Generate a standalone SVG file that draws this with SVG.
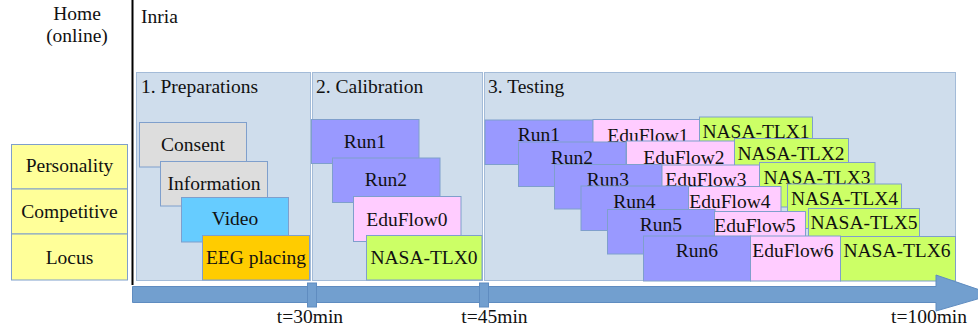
<svg xmlns="http://www.w3.org/2000/svg" width="978" height="329" viewBox="0 0 978 329">
<style>
text{font-family:"Liberation Serif","Times New Roman",serif;font-size:19.5px;fill:#111}
.c{text-anchor:middle}
.panel{fill:#cfddec;stroke:#a3bbd8;stroke-width:1}
.box{stroke:#7f9fcc;stroke-width:1}
.yel{fill:#ffff99}
.gry{fill:#dddddd}
.vid{fill:#66ccff}
.eeg{fill:#ffcc00}
.run{fill:#9999ff}
.edu{fill:#ffccff}
.nasa{fill:#ccff66}
.axis{fill:#729fcf;stroke:#5f8cc0;stroke-width:1}
</style>
<rect width="978" height="329" fill="#ffffff"/>
<g id="header">
<text class="c" x="77" y="20">Home</text>
<text class="c" x="77" y="42">(online)</text>
<text x="141" y="23">Inria</text>
<line x1="132.5" y1="0" x2="132.5" y2="285" stroke="#000" stroke-width="2"/>
</g>
<g id="questionnaires">
<g id="personality"><rect class="box yel" x="11.5" y="144.5" width="116" height="44.5"/><text class="c" x="69.5" y="171.5">Personality</text></g>
<g id="competitive"><rect class="box yel" x="11.5" y="189" width="116" height="45"/><text class="c" x="69.5" y="217.5">Competitive</text></g>
<g id="locus"><rect class="box yel" x="11.5" y="234" width="116" height="46"/><text class="c" x="69.5" y="263.5">Locus</text></g>
</g>
<g id="panel-preparations"><rect class="panel" x="136.5" y="72.5" width="174" height="208"/><text x="141" y="93">1. Preparations</text></g>
<g id="panel-calibration"><rect class="panel" x="312.5" y="72.5" width="170" height="208"/><text x="316" y="93">2. Calibration</text></g>
<g id="panel-testing"><rect class="panel" x="484.5" y="72.5" width="471" height="208"/><text x="488" y="93">3. Testing</text></g>
<g id="consent"><rect class="box gry" x="139.5" y="122.5" width="107" height="44.5"/><text class="c" x="193" y="151">Consent</text></g>
<g id="information"><rect class="box gry" x="160.5" y="161.5" width="107" height="44.5"/><text class="c" x="214" y="190">Information</text></g>
<g id="video"><rect class="box vid" x="181.5" y="197.5" width="107" height="44.5"/><text class="c" x="235" y="225">Video</text></g>
<g id="eeg"><rect class="box eeg" x="202.5" y="235.5" width="107" height="44.5"/><text class="c" x="256" y="263.5">EEG placing</text></g>
<g id="cal-run1"><rect class="box run" x="311.5" y="119.5" width="107.5" height="44"/><text class="c" x="365" y="147.5">Run1</text></g>
<g id="cal-run2"><rect class="box run" x="332.5" y="158" width="107.5" height="44.5"/><text class="c" x="386" y="186">Run2</text></g>
<g id="cal-eduflow0"><rect class="box edu" x="353.5" y="196.5" width="107.5" height="45"/><text class="c" x="407" y="225.5">EduFlow0</text></g>
<g id="cal-nasa0"><rect class="box nasa" x="366.5" y="235.5" width="115.5" height="44.5"/><text class="c" x="424" y="263.5">NASA-TLX0</text></g>
<g id="row1">
<rect class="box run" x="485" y="120" width="108" height="44.5"/><text class="c" x="539" y="141">Run1</text>
<rect class="box edu" x="593" y="119.5" width="106.5" height="44.5"/><text class="c" x="648" y="141.5">EduFlow1</text>
<rect class="box nasa" x="699.5" y="117" width="113" height="44.5"/><text class="c" x="756" y="138">NASA-TLX1</text>
</g>
<g id="row2">
<rect class="box run" x="518.5" y="142" width="107.5" height="44.5"/><text class="c" x="572" y="163.5">Run2</text>
<rect class="box edu" x="626.5" y="141" width="108" height="44.5"/><text class="c" x="684" y="163.5">EduFlow2</text>
<rect class="box nasa" x="734.5" y="138.5" width="114" height="44.5"/><text class="c" x="791" y="160">NASA-TLX2</text>
</g>
<g id="row3">
<rect class="box run" x="554.5" y="164.5" width="107.5" height="44.5"/><text class="c" x="608" y="185.5">Run3</text>
<rect class="box edu" x="662" y="165" width="97.5" height="44.5"/><text class="c" x="706" y="185.5">EduFlow3</text>
<rect class="box nasa" x="759.5" y="162.5" width="115.5" height="44.5"/><text class="c" x="817" y="183.5">NASA-TLX3</text>
</g>
<g id="row4">
<rect class="box run" x="581" y="186" width="107.5" height="44.5"/><text class="c" x="634.5" y="207.5">Run4</text>
<rect class="box edu" x="688.5" y="186.5" width="92.5" height="44.5"/><text class="c" x="730" y="207.5">EduFlow4</text>
<rect class="box nasa" x="787.5" y="184" width="114" height="44.5"/><text class="c" x="844.5" y="204.5">NASA-TLX4</text>
</g>
<g id="row5">
<rect class="box run" x="607.5" y="209.5" width="107.5" height="44.5"/><text class="c" x="661" y="231">Run5</text>
<rect class="box edu" x="714.5" y="211.5" width="91" height="44.5"/><text class="c" x="755" y="231.5">EduFlow5</text>
<rect class="box nasa" x="808.5" y="208.5" width="111" height="44.5"/><text class="c" x="864" y="228.5">NASA-TLX5</text>
</g>
<g id="row6">
<rect class="box run" x="643.5" y="236" width="107" height="45"/><text class="c" x="697" y="257">Run6</text>
<rect class="box edu" x="750.5" y="236" width="90" height="45"/><text class="c" x="793" y="257">EduFlow6</text>
<rect class="box nasa" x="840.5" y="236.5" width="115" height="44.5"/><text class="c" x="897" y="257">NASA-TLX6</text>
</g>
<g id="timeline">
<polygon class="axis" points="132.5,286.5 936,286.5 936,275 993,294.5 936,311 936,302.5 132.5,302.5"/>
<rect class="axis" x="307.5" y="283" width="9" height="24"/>
<rect class="axis" x="479.5" y="283" width="9" height="24"/>
<text class="c" x="310" y="322.5">t=30min</text>
<text class="c" x="494.5" y="322.5">t=45min</text>
<text class="c" x="929" y="322.5">t=100min</text>
</g>
</svg>
